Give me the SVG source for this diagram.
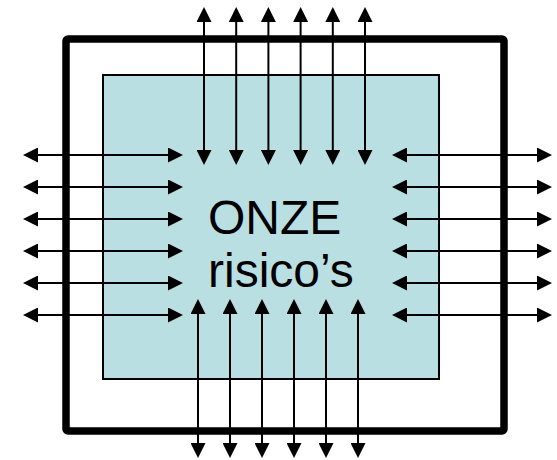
<svg xmlns="http://www.w3.org/2000/svg" width="557" height="460" viewBox="0 0 557 460">
  <style>
    .outer { fill: none; stroke: #000; stroke-width: 7.5; stroke-linejoin: round; }
    .inner { fill: #BADFE3; stroke: #000; stroke-width: 2; }
    .conn line { stroke: #000; stroke-width: 2; marker-start: url(#ah); marker-end: url(#ah); }
    .lbl { font-family: "Liberation Sans", Arial, sans-serif; font-size: 48px; fill: #000; }
  </style>
  <defs>
    <marker id="ah" viewBox="0 0 15 15" refX="11" refY="7.5" markerWidth="15" markerHeight="15" markerUnits="userSpaceOnUse" orient="auto-start-reverse">
      <path d="M0,0 L15,7.5 L0,15 Z" fill="#000"/>
    </marker>
  </defs>
  <rect width="557" height="460" fill="#fff"/>
  <g id="outer-box">
    <rect class="outer" x="66" y="39" width="438" height="392" rx="2"/>
  </g>
  <g id="inner-box">
    <rect class="inner" x="103" y="75" width="336" height="304"/>
    <text class="lbl" x="208" y="234">ONZE</text>
    <text class="lbl" x="208" y="287">risico’s</text>
  </g>
  <g id="connectors" class="conn">
    <line x1="204" y1="11" x2="204" y2="161"/>
    <line x1="236.2" y1="11" x2="236.2" y2="161"/>
    <line x1="268.4" y1="11" x2="268.4" y2="161"/>
    <line x1="300.6" y1="11" x2="300.6" y2="161"/>
    <line x1="332.8" y1="11" x2="332.8" y2="161"/>
    <line x1="365" y1="11" x2="365" y2="161"/>
    <line x1="198" y1="303" x2="198" y2="454"/>
    <line x1="230" y1="303" x2="230" y2="454"/>
    <line x1="262" y1="303" x2="262" y2="454"/>
    <line x1="294" y1="303" x2="294" y2="454"/>
    <line x1="326" y1="303" x2="326" y2="454"/>
    <line x1="358" y1="303" x2="358" y2="454"/>
    <line x1="27" y1="155" x2="179" y2="155"/>
    <line x1="27" y1="187" x2="179" y2="187"/>
    <line x1="27" y1="219" x2="179" y2="219"/>
    <line x1="27" y1="251" x2="179" y2="251"/>
    <line x1="27" y1="283" x2="179" y2="283"/>
    <line x1="27" y1="315" x2="179" y2="315"/>
    <line x1="396" y1="155" x2="548" y2="155"/>
    <line x1="396" y1="187" x2="548" y2="187"/>
    <line x1="396" y1="219" x2="548" y2="219"/>
    <line x1="396" y1="251" x2="548" y2="251"/>
    <line x1="396" y1="283" x2="548" y2="283"/>
    <line x1="396" y1="315" x2="548" y2="315"/>
  </g>
</svg>
